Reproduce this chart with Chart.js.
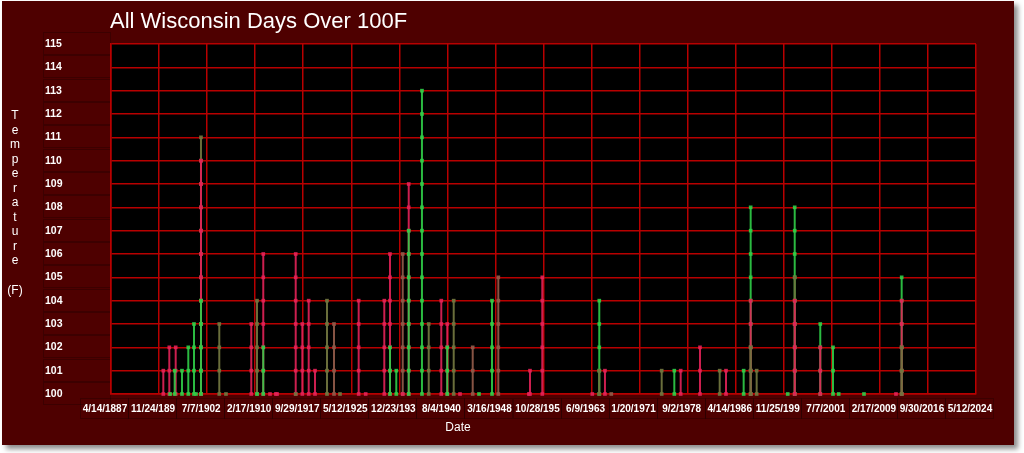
<!DOCTYPE html>
<html>
<head>
<meta charset="utf-8">
<title>All Wisconsin Days Over 100F</title>
<script src="https://cdn.jsdelivr.net/npm/chart.js@4.4.1/dist/chart.umd.min.js"></script>
<style>
    html, body { margin: 0; padding: 0; background: #ffffff; overflow: hidden; }
    #wrap { width: 1024px; height: 453px; position: relative; }
</style>
</head>
<body>
<div id="wrap"><canvas id="heatChart"></canvas></div>
<script>
// Textes du graphique
const chartTitle = 'All Wisconsin Days Over 100F';
const yTitleLetters = ['T', 'e', 'm', 'p', 'e', 'r', 'a', 't', 'u', 'r', 'e'];
const yUnit = '(F)';
const xTitle = 'Date';

// Axe des dates (années décimales) : 4/14/1887 .. 5/12/2024
const xMin = 1887.28;
const xMax = 2024.36;
const xTickLabels = ['4/14/1887', '11/24/189', '7/7/1902', '2/17/1910', '9/29/1917', '5/12/1925',
    '12/23/193', '8/4/1940', '3/16/1948', '10/28/195', '6/9/1963', '1/20/1971', '9/2/1978',
    '4/14/1986', '11/25/199', '7/7/2001', '2/17/2009', '9/30/2016', '5/12/2024'];

// Axe des températures
const yMin = 100;
const yMax = 115;

// Une tige par jour / groupe de stations : date, relevés (F), groupe
const stemDates = [
    1895.57, 1896.52, 1896.65, 1897.37, 1897.53, 1898.53, 1899.53, 1900.43, 1900.75,
    1901.54, 1901.54, 1901.54, 1904.44, 1905.50, 1909.51, 1910.42, 1910.42, 1911.41, 1911.41,
    1912.48, 1913.40, 1913.60, 1916.55, 1916.55, 1917.60, 1918.61, 1919.61, 1921.51, 1922.62,
    1923.57, 1926.53, 1927.64, 1930.59, 1931.49, 1931.49, 1932.49, 1933.51, 1933.51, 1934.46,
    1934.46, 1936.56, 1937.63, 1939.62, 1940.57, 1940.57, 1941.59, 1942.59, 1944.60, 1945.60,
    1947.66, 1948.66, 1953.50, 1953.68, 1955.63, 1963.55, 1964.66, 1964.66, 1965.56, 1966.56,
    1974.55, 1976.55, 1977.56, 1980.62, 1983.74, 1984.74, 1987.54, 1988.65, 1988.65, 1988.65,
    1989.60, 1994.52, 1995.63, 1995.63, 1995.63, 1999.68, 1999.68, 2001.70, 2002.60, 2006.61,
    2011.68, 2012.58, 2012.58, 2012.58
];
const stemTemps = [
    [100, 101], [100, 101, 102], [100], [100, 101], [100, 101, 102], [100, 101], [100, 101, 102],
    [100, 101, 102, 103], [100],
    [100, 101, 102, 103, 104, 105, 106, 107, 108, 109, 110, 111],
    [100, 101, 102, 103, 104, 105, 106, 107, 108, 109, 110],
    [100, 101, 102, 103, 104],
    [100, 101, 102, 103], [100], [100, 101, 102, 103], [100, 101, 102, 103, 104], [100],
    [100, 101, 102, 103, 104, 105, 106], [100, 101, 102],
    [100], [100], [100], [100, 101, 102, 103, 104, 105, 106], [100], [100, 101, 102, 103],
    [100, 101, 102, 103, 104], [100, 101], [100, 101, 102, 103, 104], [100, 101, 102, 103],
    [100], [100, 101, 102, 103, 104], [100], [100, 101, 102, 103, 104],
    [100, 101, 102, 103, 104, 105, 106], [100, 101, 102], [100, 101],
    [100, 101, 102, 103, 104, 105, 106], [100],
    [100, 101, 102, 103, 104, 105, 106, 107, 108, 109],
    [100, 101, 102, 103, 104, 105, 106, 107],
    [100, 101, 102, 103, 104, 105, 106, 107, 108, 109, 110, 111, 112, 113],
    [100, 101, 102, 103], [100, 101, 102, 103, 104], [100, 101, 102, 103], [100, 101, 102],
    [100, 101, 102, 103, 104], [100], [100, 101, 102], [100],
    [100, 101, 102, 103, 104], [100, 101, 102, 103, 104, 105], [100], [100, 101],
    [100, 101, 102, 103, 104, 105], [100], [100, 101, 102, 103, 104], [100, 101], [100, 101], [100],
    [100, 101], [100, 101], [100, 101], [100, 101, 102], [100, 101], [100, 101], [100, 101],
    [100, 101, 102, 103, 104, 105, 106, 107, 108], [100, 101, 102, 103, 104], [100, 101, 102],
    [100, 101], [100],
    [100, 101, 102, 103, 104, 105, 106, 107, 108], [100, 101, 102, 103, 104, 105], [100, 101, 102, 103, 104],
    [100, 101, 102, 103], [100, 101, 102], [100, 101, 102], [100], [100],
    [100], [100, 101, 102, 103, 104, 105], [100, 101, 102, 103, 104], [100, 101, 102]
];
const stemGroup = [
    'a', 'a', 'b', 'b', 'a', 'b', 'b', 'b', 'b',
    'c', 'a', 'b', 'c', 'c', 'a', 'c', 'b', 'a', 'b',
    'a', 'a', 'a', 'a', 'c', 'a', 'a', 'a', 'c', 'd',
    'c', 'a', 'a', 'a', 'a', 'b', 'b', 'd', 'a', 'a',
    'b', 'b', 'c', 'a', 'a', 'b', 'c', 'a', 'd', 'b',
    'b', 'd', 'a', 'a', 'a', 'a', 'b', 'c', 'a', 'd',
    'c', 'b', 'a', 'a', 'c', 'a', 'b', 'b', 'a', 'c',
    'c', 'b', 'b', 'c', 'a', 'b', 'a', 'b', 'b', 'b',
    'a', 'b', 'a', 'c'
];

// Couleurs par groupe
const palette = {
    a: 'rgba(226, 34, 88, 0.9)',
    b: 'rgba(48, 206, 72, 0.9)',
    c: 'rgba(112, 116, 62, 0.95)',
    d: 'rgba(142, 88, 72, 0.95)'
};

const panelColor = '#4e0000';
const gridColor = '#b80000';
const boxColor = 'rgba(0, 0, 0, 0.22)';
const textFont = '"Liberation Sans", Arial, sans-serif';

const datasets = stemDates.map(function(d, i) {
    const col = palette[stemGroup[i]];
    return {
        data: stemTemps[i].map(t => ({ x: d, y: t })),
        borderColor: col,
        backgroundColor: col,
        borderWidth: 2,
        showLine: true,
        pointStyle: 'rect',
        pointRadius: 2.6,
        pointBorderWidth: 0,
        order: stemTemps[i].length,
        clip: false
    };
});

// Fond, zone noire, cadres des étiquettes et textes
const decorPlugin = {
    id: 'decor',
    beforeDraw(chart) {
        const ctx = chart.ctx;
        const area = chart.chartArea;
        ctx.save();
        ctx.fillStyle = '#ffffff';
        ctx.fillRect(0, 0, chart.width, chart.height);
        ctx.shadowColor = 'rgba(0, 0, 0, 0.45)';
        ctx.shadowBlur = 5;
        ctx.shadowOffsetX = 4;
        ctx.shadowOffsetY = 4;
        ctx.fillStyle = panelColor;
        ctx.fillRect(2, 1, 1012, 444);
        ctx.restore();

        ctx.save();
        ctx.fillStyle = '#000000';
        ctx.fillRect(area.left, area.top, area.right - area.left, area.bottom - area.top);

        // petits cadres autour des étiquettes
        ctx.strokeStyle = boxColor;
        ctx.lineWidth = 1;
        const yScale = chart.scales.y;
        yScale.ticks.forEach(function(t) {
            const py = Math.round(yScale.getPixelForValue(t.value));
            ctx.strokeRect(43.5, py - 11.5, area.left - 44, 22);
        });
        const xScale = chart.scales.x;
        xScale.ticks.forEach(function(t) {
            const px = Math.round(xScale.getPixelForValue(t.value));
            ctx.strokeRect(px - 30.5, 398.5, 48, 20);
        });
        ctx.restore();
    },
    afterDraw(chart) {
        const ctx = chart.ctx;
        ctx.save();
        ctx.fillStyle = '#ffffff';
        ctx.font = '22px ' + textFont;
        ctx.textAlign = 'left';
        ctx.textBaseline = 'alphabetic';
        ctx.fillText(chartTitle, 110, 28);

        ctx.font = '12px ' + textFont;
        ctx.textAlign = 'center';
        ctx.textBaseline = 'middle';
        yTitleLetters.forEach(function(ch, i) {
            ctx.fillText(ch, 15, 116 + i * 14.5);
        });
        ctx.fillText(yUnit, 15, 291);
        ctx.fillText(xTitle, 458, 428);
        ctx.restore();
    }
};

document.addEventListener('DOMContentLoaded', function() {
    const ctx = document.getElementById('heatChart');
    new Chart(ctx, {
        type: 'scatter',
        data: { datasets: datasets },
        options: {
            responsive: true,
            maintainAspectRatio: false,
            animation: false,
            layout: { padding: { left: 45, right: 48, top: 44, bottom: 0 } },
            plugins: {
                legend: { display: false },
                tooltip: { enabled: false },
                title: { display: false }
            },
            scales: {
                x: {
                    type: 'linear',
                    min: xMin,
                    max: xMax,
                    afterBuildTicks: function(scale) {
                        const step = (xMax - xMin) / (xTickLabels.length - 1);
                        scale.ticks = xTickLabels.map((_, i) => ({ value: xMin + i * step }));
                    },
                    afterFit: function(scale) { scale.height = 59; },
                    grid: { color: gridColor, lineWidth: 1.5, drawTicks: false },
                    border: { color: gridColor, width: 1.5 },
                    ticks: {
                        color: '#ffffff',
                        font: { family: textFont, size: 10, weight: 'bold' },
                        padding: 9,
                        labelOffset: -6,
                        maxRotation: 0,
                        autoSkip: false,
                        callback: (v, i) => xTickLabels[i]
                    }
                },
                y: {
                    min: yMin,
                    max: yMax,
                    afterFit: function(scale) { scale.width = 66; },
                    grid: { color: gridColor, lineWidth: 1.5, drawTicks: false },
                    border: { color: gridColor, width: 1.5 },
                    ticks: {
                        stepSize: 1,
                        color: '#ffffff',
                        font: { family: textFont, size: 10.5, weight: 'bold' },
                        crossAlign: 'far',
                        padding: 0
                    }
                }
            }
        },
        plugins: [decorPlugin]
    });
});
</script>
</body>
</html>
